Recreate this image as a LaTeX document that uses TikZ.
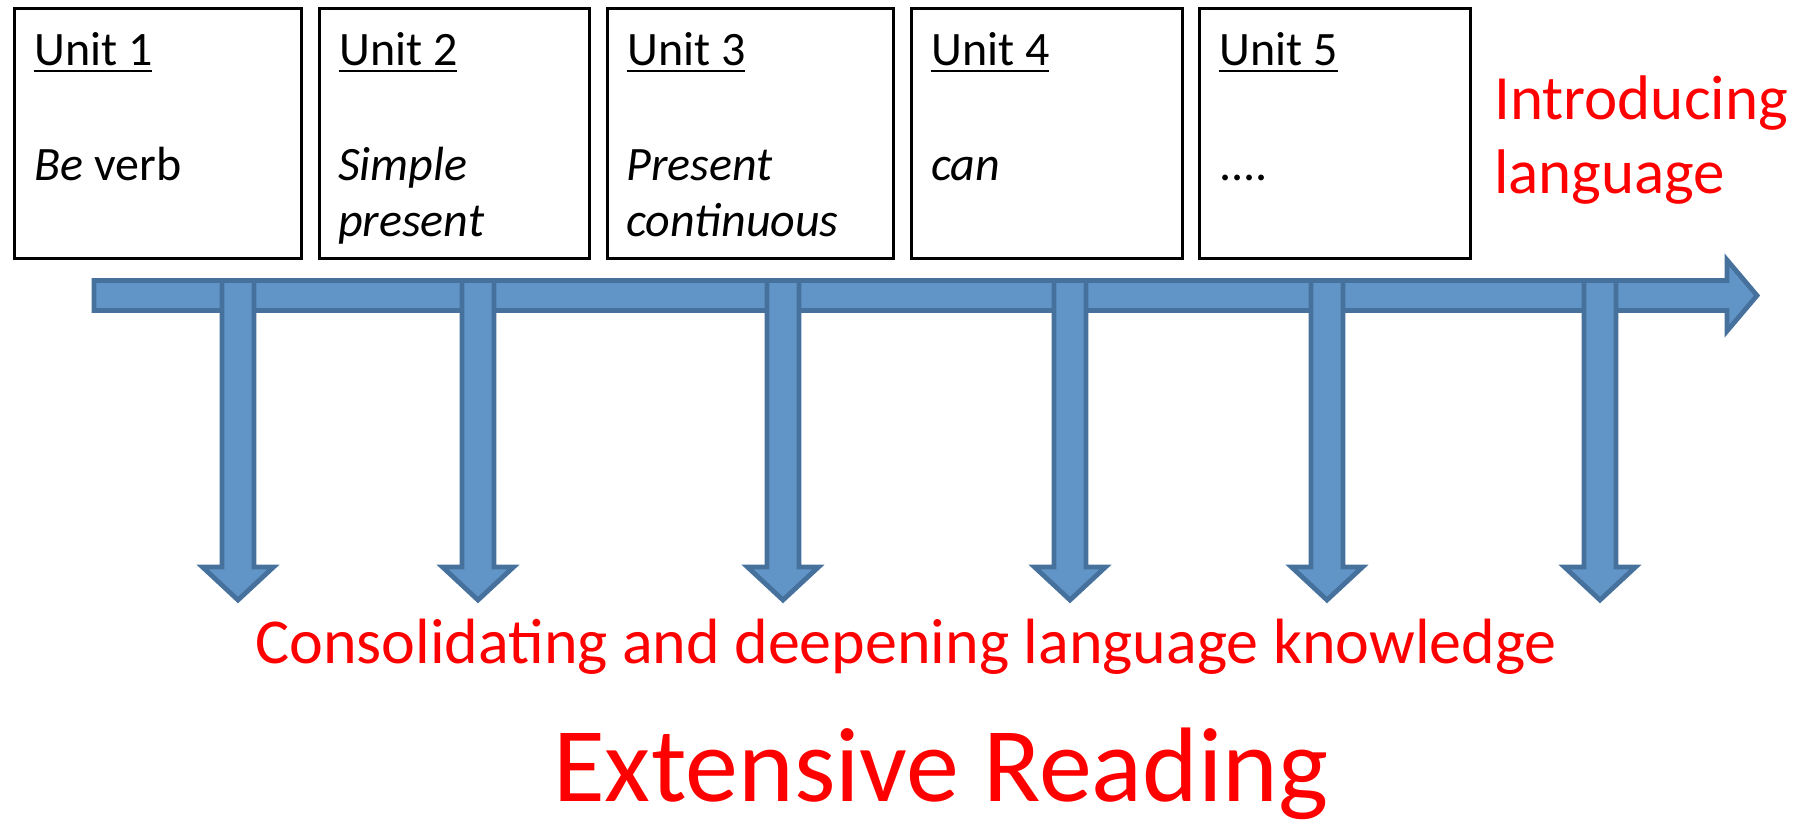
\documentclass[tikz,border=0pt]{standalone}
\usepackage{fontspec}
\setmainfont{Carlito}
\usetikzlibrary{calc}
\definecolor{arrowfill}{RGB}{97,149,200}
\definecolor{arrowline}{RGB}{71,113,157}
\definecolor{introred}{RGB}{255,0,0}
% underlined unit heading
\newcommand\unitline[1]{\setbox0\hbox{#1}\rlap{\rule[-7.3pt]{\wd0}{2.7pt}}\box0}

\begin{document}
\begin{tikzpicture}[x=1pt,y=-1pt,
  unitbox/.style={draw=black, line width=3pt, fill=white, anchor=north west,
    inner sep=0pt, minimum height=250pt},
  boxtext/.style={anchor=base west, inner sep=0pt, font=\fontsize{48}{57}\selectfont},
  bigarrow/.style={fill=arrowfill, draw=arrowline, line width=4.8pt, line join=miter},
  redtext/.style={text=introred, anchor=base west, inner sep=0pt}]

\useasboundingbox (0,0) rectangle (1805,823);

% unit boxes
\node[unitbox, minimum width=287pt] (u1) at (13,7) {};
\node[unitbox, minimum width=270pt] (u2) at (318,7) {};
\node[unitbox, minimum width=286pt] (u3) at (606,7) {};
\node[unitbox, minimum width=271pt] (u4) at (910,7) {};
\node[unitbox, minimum width=271pt] (u5) at (1198,7) {};

% headings and topics
\node[boxtext] (h1) at ($(u1.north west)+(21,58)$) {\unitline{Unit 1}};
\node[boxtext] (t1) at ($(u1.north west)+(21,173)$) {\textit{Be} verb};

\node[boxtext] (h2) at ($(u2.north west)+(21,58)$) {\unitline{Unit 2}};
\node[boxtext] (t2a) at ($(u2.north west)+(20,173)$) {\textit{Simple}};
\node[boxtext] (t2b) at ($(u2.north west)+(20,229)$) {\textit{present}};

\node[boxtext] (h3) at ($(u3.north west)+(21,58)$) {\unitline{Unit 3}};
\node[boxtext] (t3a) at ($(u3.north west)+(20,173)$) {\textit{Present}};
\node[boxtext] (t3b) at ($(u3.north west)+(20,229)$) {\textit{continuous}};

\node[boxtext] (h4) at ($(u4.north west)+(21,58)$) {\unitline{Unit 4}};
\node[boxtext] (t4) at ($(u4.north west)+(21,173)$) {\textit{can}};

\node[boxtext] (h5) at ($(u5.north west)+(21,58)$) {\unitline{Unit 5}};
\node[boxtext] (t5) at ($(u5.north west)+(21,173)$) {....};

% timeline arrow
\draw[bigarrow] (94,280.5) -- (1727,280.5) -- (1727,260) -- (1757,295.5)
  -- (1727,331) -- (1727,310.5) -- (94,310.5) -- cycle;

% downward arrows
\foreach \c in {238,478,783,1070,1327,1600}{
  \draw[bigarrow] (\c-16,280.5) -- (\c+16,280.5) -- (\c+16,567) -- (\c+35.5,567)
    -- (\c,600) -- (\c-35.5,567) -- (\c-16,567) -- cycle;
}

% labels
\node[redtext, font=\fontsize{63}{74}\selectfont] (intro1) at (1494,119) {Introducing};
\node[redtext, font=\fontsize{63}{74}\selectfont] (intro2) at (1494,193) {language};
\node[redtext, font=\fontsize{64}{76}\selectfont] (cons) at (255,663)
  {Consolidating and deepening language knowledge};
\node[redtext, font=\fontsize{106}{120}\selectfont] (er) at (553,801) {Extensive Reading};

\end{tikzpicture}
\end{document}
